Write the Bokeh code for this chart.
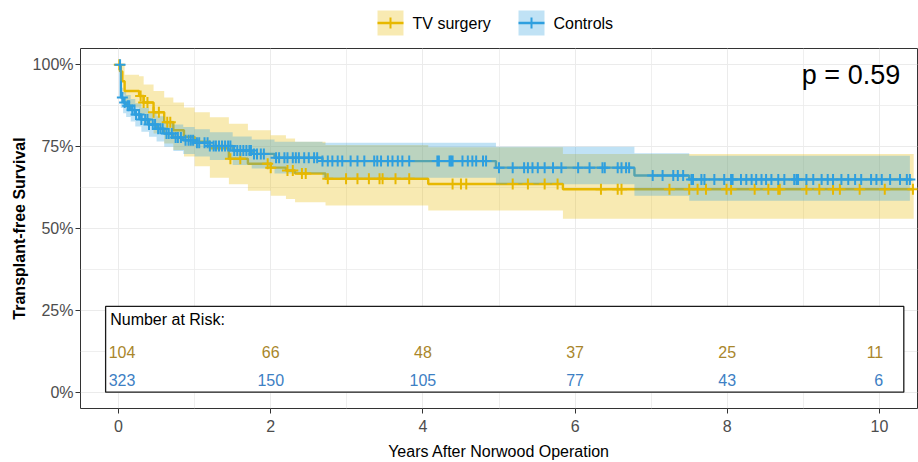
import numpy as np
from bokeh.plotting import figure
from bokeh.layouts import column
from bokeh.models import (Range1d, FixedTicker, NumeralTickFormatter, Label, ColumnDataSource)
from bokeh.core.properties import value, field
from bokeh.embed import file_html
from bokeh.resources import INLINE

# ---------------- data ----------------
group_names = ["TV surgery", "Controls"]

tv_time  = [0, 0.02, 0.05, 0.08, 0.27, 0.33, 0.46, 0.60, 0.72, 0.86, 1.00, 1.20, 1.45, 1.70, 2.00, 2.20, 2.32, 2.72, 4.07, 5.84]
tv_surv  = [1.0, 0.98, 0.95, 0.92, 0.905, 0.885, 0.855, 0.825, 0.80, 0.78, 0.765, 0.745, 0.713, 0.698, 0.686, 0.677, 0.668, 0.652, 0.636, 0.62]
tv_upper = [1.0, 1.0, 1.0, 0.97, 0.965, 0.94, 0.92, 0.90, 0.885, 0.87, 0.855, 0.84, 0.82, 0.80, 0.785, 0.775, 0.765, 0.755, 0.748, 0.728]
tv_lower = [1.0, 0.95, 0.91, 0.87, 0.85, 0.82, 0.79, 0.76, 0.74, 0.72, 0.69, 0.655, 0.635, 0.615, 0.60, 0.59, 0.58, 0.57, 0.555, 0.53]
tv_end = 10.45
tv_censor = [0.01, 0.29, 0.33, 0.38, 0.46, 0.53, 0.64, 0.68, 1.47, 1.60, 1.96, 2.00, 2.22, 2.29, 2.41, 2.46,
             2.75, 2.99, 3.14, 3.29, 3.43, 3.47, 3.64, 3.82, 4.39, 4.50, 4.57, 5.18, 5.38, 5.60, 5.77,
             6.34, 6.56, 6.61, 7.24, 7.50, 7.61, 7.72, 7.99, 8.05, 8.36, 8.54, 8.67, 8.69, 9.04, 9.21,
             9.39, 9.48, 9.74, 10.07, 10.44]

ct_time  = [0, 0.03, 0.06, 0.10, 0.16, 0.22, 0.30, 0.40, 0.50, 0.60, 0.72, 0.85, 1.00, 1.20, 1.50, 1.75, 2.05, 2.68, 4.96, 6.78, 7.50]
ct_surv  = [1.0, 0.90, 0.885, 0.875, 0.862, 0.848, 0.833, 0.818, 0.805, 0.79, 0.778, 0.77, 0.762, 0.752, 0.738, 0.728, 0.716, 0.706, 0.686, 0.662, 0.650]
ct_upper = [1.0, 0.93, 0.917, 0.908, 0.896, 0.883, 0.869, 0.855, 0.843, 0.829, 0.818, 0.81, 0.803, 0.794, 0.781, 0.772, 0.765, 0.762, 0.75, 0.73, 0.722]
ct_lower = [1.0, 0.868, 0.852, 0.841, 0.827, 0.812, 0.796, 0.78, 0.766, 0.75, 0.737, 0.728, 0.72, 0.709, 0.694, 0.683, 0.668, 0.655, 0.635, 0.60, 0.585]
ct_end = 10.40
ct_censor = [0.02, 0.05, 0.08, 0.12, 0.14, 0.18, 0.21, 0.23, 0.27, 0.30, 0.35, 0.38, 0.40, 0.45, 0.48, 0.52,
             0.55, 0.58, 0.63, 0.66, 0.70, 0.75, 0.78, 0.82, 0.88, 0.92, 0.95, 0.98, 1.03, 1.06, 1.13,
             1.17, 1.20, 1.25, 1.28, 1.32, 1.36, 1.40, 1.44, 1.47, 1.52, 1.56, 1.60, 1.64, 1.68, 1.72,
             1.74, 1.78, 1.82, 1.87, 1.91, 2.07, 2.11, 2.18, 2.22, 2.29, 2.33, 2.37, 2.44, 2.50, 2.57,
             2.61, 2.68, 2.75, 2.81, 2.88, 2.94, 3.05, 3.14, 3.23, 3.36, 3.40, 3.45, 3.54, 3.60, 3.67,
             3.73, 3.82, 4.19, 4.21, 4.35, 4.37, 4.39, 4.52, 4.59, 4.65, 4.70, 4.79, 4.83, 5.00, 5.18,
             5.33, 5.38, 5.44, 5.51, 5.60, 5.71, 5.82, 6.04, 6.19, 6.36, 6.39, 6.56, 6.61, 6.67, 6.71,
             7.02, 7.15, 7.29, 7.35, 7.42, 7.53, 7.55, 7.66, 7.70, 7.83, 7.96, 8.05, 8.07, 8.18, 8.25,
             8.32, 8.38, 8.45, 8.51, 8.58, 8.67, 8.75, 8.88, 8.91, 8.93, 9.04, 9.13, 9.24, 9.32, 9.39,
             9.50, 9.59, 9.68, 9.76, 9.89, 9.96, 10.03, 10.14, 10.27, 10.36, 10.40]

risk_times = [0, 2, 4, 6, 8, 10]
tv_risk = [104, 66, 48, 37, 25, 11]
ct_risk = [323, 150, 105, 77, 43, 6]
risk_title = "Number at Risk:"

x_ticks = [0, 2, 4, 6, 8, 10]
x_minor = [1, 3, 5, 7, 9]
y_ticks = [0, 0.25, 0.5, 0.75, 1.0]
y_minor = [0.125, 0.375, 0.625, 0.875]

p_value_text = "p = 0.59"
x_title = "Years After Norwood Operation"
y_title = "Transplant-free Survival"

# ---------------- styling ----------------
FONT = "Liberation Sans"
YEL = "#E7B800"
BLU = "#2E9FDF"
YEL_TXT = "#A9862B"
BLU_TXT = "#3D80C4"
GRID = "#EBEBEB"
W, H_LEG, H_MAIN = 918, 48, 414
LEFT, RIGHT = 80, 1


def extend(t, v, end):
    return list(t) + [end], list(v) + [v[-1]]


def step_at(t_arr, v_arr, q):
    idx = np.searchsorted(np.asarray(t_arr), np.asarray(q), side="right") - 1
    return np.asarray(v_arr)[idx]


p = figure(width=W, height=H_MAIN,
           x_range=Range1d(-0.5, 10.5), y_range=Range1d(-0.05, 1.05),
           output_backend="svg", toolbar_location=None,
           min_border_left=LEFT, min_border_right=RIGHT, min_border_bottom=54, min_border_top=0)
p.background_fill_color = "white"
p.border_fill_color = "white"
p.outline_line_color = "#333333"
p.outline_line_width = 1

# axes
p.xaxis.ticker = FixedTicker(ticks=x_ticks, minor_ticks=x_minor)
p.yaxis.ticker = FixedTicker(ticks=y_ticks, minor_ticks=y_minor)
p.yaxis.formatter = NumeralTickFormatter(format="0%")
for ax in (p.xaxis[0], p.yaxis[0]):
    ax.axis_line_color = None
    ax.major_tick_line_color = "#333333"
    ax.major_tick_out = 5
    ax.major_tick_in = 0
    ax.minor_tick_out = 0
    ax.minor_tick_in = 0
    ax.major_label_text_font = FONT
    ax.major_label_text_font_size = "16px"
    ax.major_label_text_color = "#4D4D4D"
    ax.axis_label_text_font = FONT
    ax.axis_label_text_font_size = "16px"
    ax.axis_label_text_color = "black"
p.xaxis.axis_label = x_title
p.xaxis.axis_label_text_font_style = "normal"
p.xaxis.major_label_standoff = 6
p.xaxis.axis_label_standoff = 8
p.yaxis.axis_label = y_title
p.yaxis.axis_label_text_font_style = "bold"
p.yaxis.major_label_standoff = 2
p.yaxis.axis_label_standoff = 2

p.xgrid.grid_line_color = GRID
p.ygrid.grid_line_color = GRID
p.xgrid.minor_grid_line_color = GRID
p.ygrid.minor_grid_line_color = GRID
p.xgrid.minor_grid_line_width = 0.8
p.ygrid.minor_grid_line_width = 0.8

# risk table box
p.quad(left=-0.17, right=10.32, bottom=0.0, top=0.262,
       fill_color="white", line_color="#1A1A1A", line_width=1.3)

# curves (lines first, then ribbons, then censor marks)
tv_x, tv_y = extend(tv_time, tv_surv, tv_end)
ct_x, ct_y = extend(ct_time, ct_surv, ct_end)
p.step(tv_x, tv_y, mode="after", line_color=YEL, line_width=2.4)
p.step(ct_x, ct_y, mode="after", line_color=BLU, line_width=2.4)

_, tv_up = extend(tv_time, tv_upper, tv_end)
_, tv_lo = extend(tv_time, tv_lower, tv_end)
_, ct_up = extend(ct_time, ct_upper, ct_end)
_, ct_lo = extend(ct_time, ct_lower, ct_end)
p.varea_step(x=tv_x, y1=tv_lo, y2=tv_up, step_mode="after", fill_color=YEL, fill_alpha=0.3)
p.varea_step(x=ct_x, y1=ct_lo, y2=ct_up, step_mode="after", fill_color=BLU, fill_alpha=0.3)

p.scatter(tv_censor, step_at(tv_time, tv_surv, tv_censor), marker="cross",
          size=11, line_color=YEL, line_width=2)
p.scatter(ct_censor, step_at(ct_time, ct_surv, ct_censor), marker="cross",
          size=11, line_color=BLU, line_width=2)

# risk table text
p.text(x=[-0.11], y=[0.222], text=[risk_title], text_align="left", text_baseline="middle",
       text_font=value(FONT), text_font_size="16px", text_color="black")
n = len(risk_times)
aligns = ["left"] + ["center"] * (n - 2) + ["right"]
xs = [risk_times[0] - 0.13] + risk_times[1:-1] + [risk_times[-1] + 0.05]
for counts, yy, col in ((tv_risk, 0.122, YEL_TXT), (ct_risk, 0.037, BLU_TXT)):
    src = ColumnDataSource(dict(x=xs, y=[yy] * n, t=[str(c) for c in counts], a=aligns))
    p.text(x="x", y="y", text="t", text_align=field("a"), text_baseline="middle",
           text_font=value(FONT), text_font_size="16px", text_color=col, source=src)

# p-value
p.add_layout(Label(x=8.98, y=0.97, text=p_value_text, text_font=FONT, text_font_size="27px",
                   text_baseline="middle", text_align="left", text_color="black"))

# ---------------- legend strip above the panel ----------------
# the column aligns this strip's frame with the main frame, so its x range is
# expressed in page pixels over that frame's span
leg = figure(width=W, height=H_LEG, x_range=Range1d(LEFT, W - RIGHT), y_range=Range1d(H_LEG, 0),
             output_backend="svg", toolbar_location=None,
             x_axis_location=None, y_axis_location=None,
             min_border_left=LEFT, min_border_right=RIGHT, min_border_top=0, min_border_bottom=0)
leg.grid.visible = False
leg.outline_line_color = None
leg.background_fill_color = "white"
leg.border_fill_color = "white"

key_left = [377, 518]      # left edge of each key box (page pixels)
key_w, key_top, key_bot = 26, 10, 35
key_mid = (key_top + key_bot) / 2
for name, col, kx in zip(group_names, (YEL, BLU), key_left):
    leg.quad(left=[kx], right=[kx + key_w], top=[key_top], bottom=[key_bot],
             fill_color=col, fill_alpha=0.3, line_color=None)
    leg.segment(x0=[kx], x1=[kx + key_w], y0=[key_mid], y1=[key_mid],
                line_color=col, line_width=2.4)
    leg.scatter(x=[kx + key_w / 2], y=[key_mid], marker="cross", size=11,
                line_color=col, line_width=2)
    leg.text(x=[kx + key_w + 9], y=[key_mid], text=[name], text_align="left",
             text_baseline="middle", text_font=value(FONT), text_font_size="16px",
             text_color="black")

layout = column(leg, p, spacing=0)
open("out.html", "w").write(file_html(layout, INLINE))
